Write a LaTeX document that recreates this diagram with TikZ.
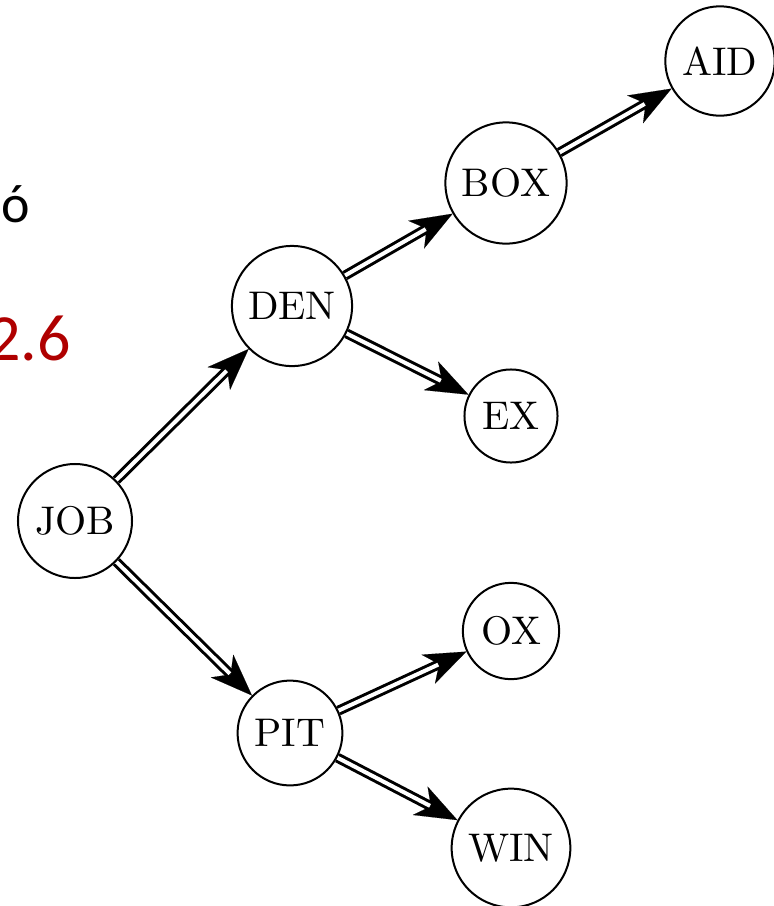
\documentclass[tikz,border=0pt]{standalone}
\usepackage{fontspec}
\newfontfamily\slidefont{Carlito}
\newfontfamily\nodefont{lmroman10-regular}[Extension=.otf]
\usetikzlibrary{arrows.meta,backgrounds}
\definecolor{slidered}{RGB}{175,0,0}
\tikzset{
  state/.style={circle, draw, line width=2pt, inner sep=11pt, font=\nodefont\fontsize{40}{44}\selectfont},
  dbl/.style={line width=10pt,
    -{Stealth[length=42pt,width=32pt,inset=12pt,line width=0.1pt]},
    postaction={draw=white, line width=4pt, -, shorten >=31pt}},
  slidetext/.style={inner sep=0pt, font=\slidefont}
}
\begin{document}
\begin{tikzpicture}[x=1pt,y=-1pt]
\useasboundingbox (0,0) rectangle (774,906);
\node[slidetext, anchor=base east, font=\slidefont\fontsize{54}{60}\selectfont] (oacute) at (30,222) {ó};
\node[slidetext, anchor=base east, text=slidered, font=\slidefont\fontsize{66}{70}\selectfont] (num) at (71,360) {2.6};
\node[state] (JOB) at (75,521) {JOB};
\node[state] (DEN) at (292,306) {DEN};
\node[state] (BOX) at (506,183) {BOX};
\node[state] (AID) at (720,61) {AID};
\node[state] (EX) at (511,416) {EX};
\node[state] (OX) at (511,631) {OX};
\node[state] (PIT) at (290,733) {PIT};
\node[state] (WIN) at (511,848) {WIN};
\begin{pgfonlayer}{background}
\draw[dbl] (JOB) -- (DEN);
\draw[dbl] (JOB) -- (PIT);
\draw[dbl] (DEN) -- (BOX);
\draw[dbl] (DEN) -- (EX);
\draw[dbl] (BOX) -- (AID);
\draw[dbl] (PIT) -- (OX);
\draw[dbl] (PIT) -- (WIN);
\end{pgfonlayer}
\end{tikzpicture}
\end{document}
